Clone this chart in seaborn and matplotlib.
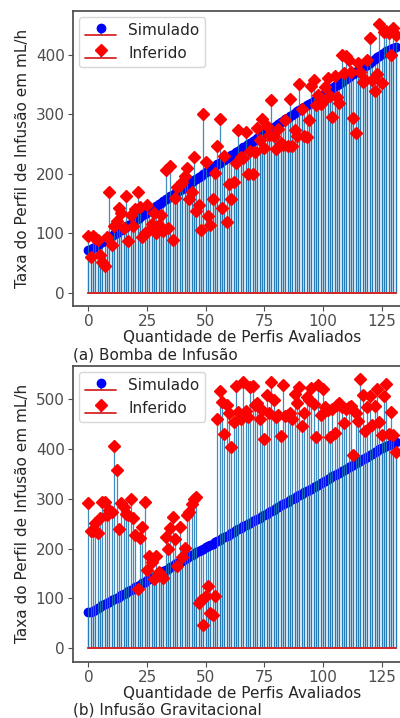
import matplotlib
matplotlib.use("Agg")
import matplotlib.pyplot as plt
import numpy as np
import seaborn as sns

sns.set_theme(style="ticks", color_codes=False,
              rc={"axes.edgecolor": ".3", "xtick.color": ".3", "ytick.color": ".3"})
plt.rcParams['font.family'] = ['DejaVu Sans']

# perfis avaliados (0..131)
perfis = list(range(132))

# taxa simulada (mesma nos dois casos)
simulado = [72, 73, 75, 77, 80, 83, 86, 88, 90, 93,
            96, 98, 100, 103, 106, 108, 111, 114, 116, 119,
            122, 124, 127, 130, 133, 136, 138, 141, 143, 146,
            149, 151, 154, 157, 159, 162, 165, 168, 170, 172,
            175, 178, 181, 184, 186, 189, 192, 195, 197, 200,
            203, 205, 207, 210, 213, 216, 218, 221, 224, 226,
            228, 231, 234, 237, 239, 242, 245, 247, 250, 252,
            255, 257, 260, 262, 265, 268, 270, 273, 275, 278,
            281, 284, 287, 289, 292, 294, 297, 299, 302, 305,
            308, 310, 313, 315, 318, 320, 323, 326, 328, 331,
            333, 336, 339, 342, 345, 348, 350, 352, 355, 358,
            360, 363, 366, 368, 371, 374, 376, 379, 381, 384,
            387, 390, 393, 396, 399, 402, 404, 406, 408, 410,
            412, 413]

# (a) bomba de infusao
inferido_bomba = [96, 60, 96, 92, 89, 64, 51, 44, 94, 169,
                  80, 112, 120, 143, 134, 109, 162, 87, 131, 112,
                  141, 169, 144, 94, 101, 147, 106, 116, 134, 101,
                  113, 131, 103, 206, 108, 213, 89, 159, 178, 181,
                  186, 196, 210, 157, 169, 229, 137, 148, 106, 301,
                  220, 129, 113, 157, 201, 246, 292, 142, 230, 119,
                  183, 157, 186, 218, 274, 229, 226, 271, 199, 238,
                  199, 236, 277, 257, 292, 244, 281, 266, 324, 263,
                  242, 275, 252, 249, 291, 246, 326, 247, 273, 263,
                  352, 309, 263, 262, 291, 348, 358, 316, 333, 318,
                  322, 346, 361, 331, 295, 364, 330, 319, 400, 369,
                  398, 392, 372, 294, 268, 387, 372, 355, 358, 392,
                  428, 358, 340, 368, 452, 353, 439, 441, 437, 400,
                  445, 433]

# (b) infusao gravitacional
inferido_grav = [291, 236, 236, 251, 232, 261, 294, 294, 267, 277,
                 274, 405, 357, 239, 292, 284, 269, 267, 299, 261,
                 227, 119, 221, 244, 294, 157, 185, 172, 139, 185,
                 152, 147, 140, 224, 199, 241, 263, 219, 164, 244,
                 183, 201, 267, 274, 289, 299, 303, 91, 96, 46,
                 105, 124, 71, 67, 104, 459, 516, 494, 429, 487,
                 471, 403, 454, 525, 474, 459, 534, 476, 464, 523,
                 525, 487, 492, 459, 477, 419, 507, 472, 534, 497,
                 464, 467, 425, 527, 465, 467, 471, 459, 509, 492,
                 524, 445, 472, 504, 497, 521, 489, 424, 527, 467,
                 519, 484, 477, 424, 479, 431, 487, 491, 483, 452,
                 479, 484, 485, 387, 472, 455, 539, 507, 436, 483,
                 505, 447, 485, 519, 454, 427, 505, 529, 429, 474,
                 427, 394]

paineis = [(inferido_bomba, "(a) Bomba de Infusão"),
           (inferido_grav, "(b) Infusão Gravitacional")]

fig = plt.figure(figsize=(4, 7.18), dpi=100)
posicoes = [[0.1825, 0.5738, 0.845, 0.4113], [0.1825, 0.0784, 0.845, 0.4119]]
legendas_y = [355, 710]

cor_haste = '#1f77b4'
cor_base = '#d62728'
fs = 11
for (inferido, titulo), pos, ly in zip(paineis, posicoes, legendas_y):
    ax = fig.add_axes(pos)
    s1 = ax.stem(perfis, simulado, linefmt='-', markerfmt='o', basefmt='-', label='Simulado')
    s2 = ax.stem(perfis, inferido, linefmt='-', markerfmt='D', basefmt='-', label='Inferido')
    for s, cor in ((s1, 'blue'), (s2, 'red')):
        plt.setp(s.stemlines, color=cor_haste, linewidth=0.9, alpha=0.85)
        plt.setp(s.markerline, color=cor, markersize=6)
        plt.setp(s.baseline, color=cor_base, linewidth=1.3)
    ax.set_xlabel("Quantidade de Perfis Avaliados", fontsize=fs, labelpad=0.5)
    ax.set_ylabel("Taxa do Perfil de Infusão em mL/h", fontsize=fs)
    ax.tick_params(labelsize=fs, length=3.5, width=0.8, pad=2.5)
    ax.set_xticks([0, 25, 50, 75, 100, 125])
    ax.legend(loc='upper left', fontsize=fs, frameon=True, borderaxespad=0.4)
    fig.text(0.1825, 1 - ly / 718, titulo, fontsize=fs, va='center', ha='left', color='.15')

fig.savefig("out.png", dpi=100)
